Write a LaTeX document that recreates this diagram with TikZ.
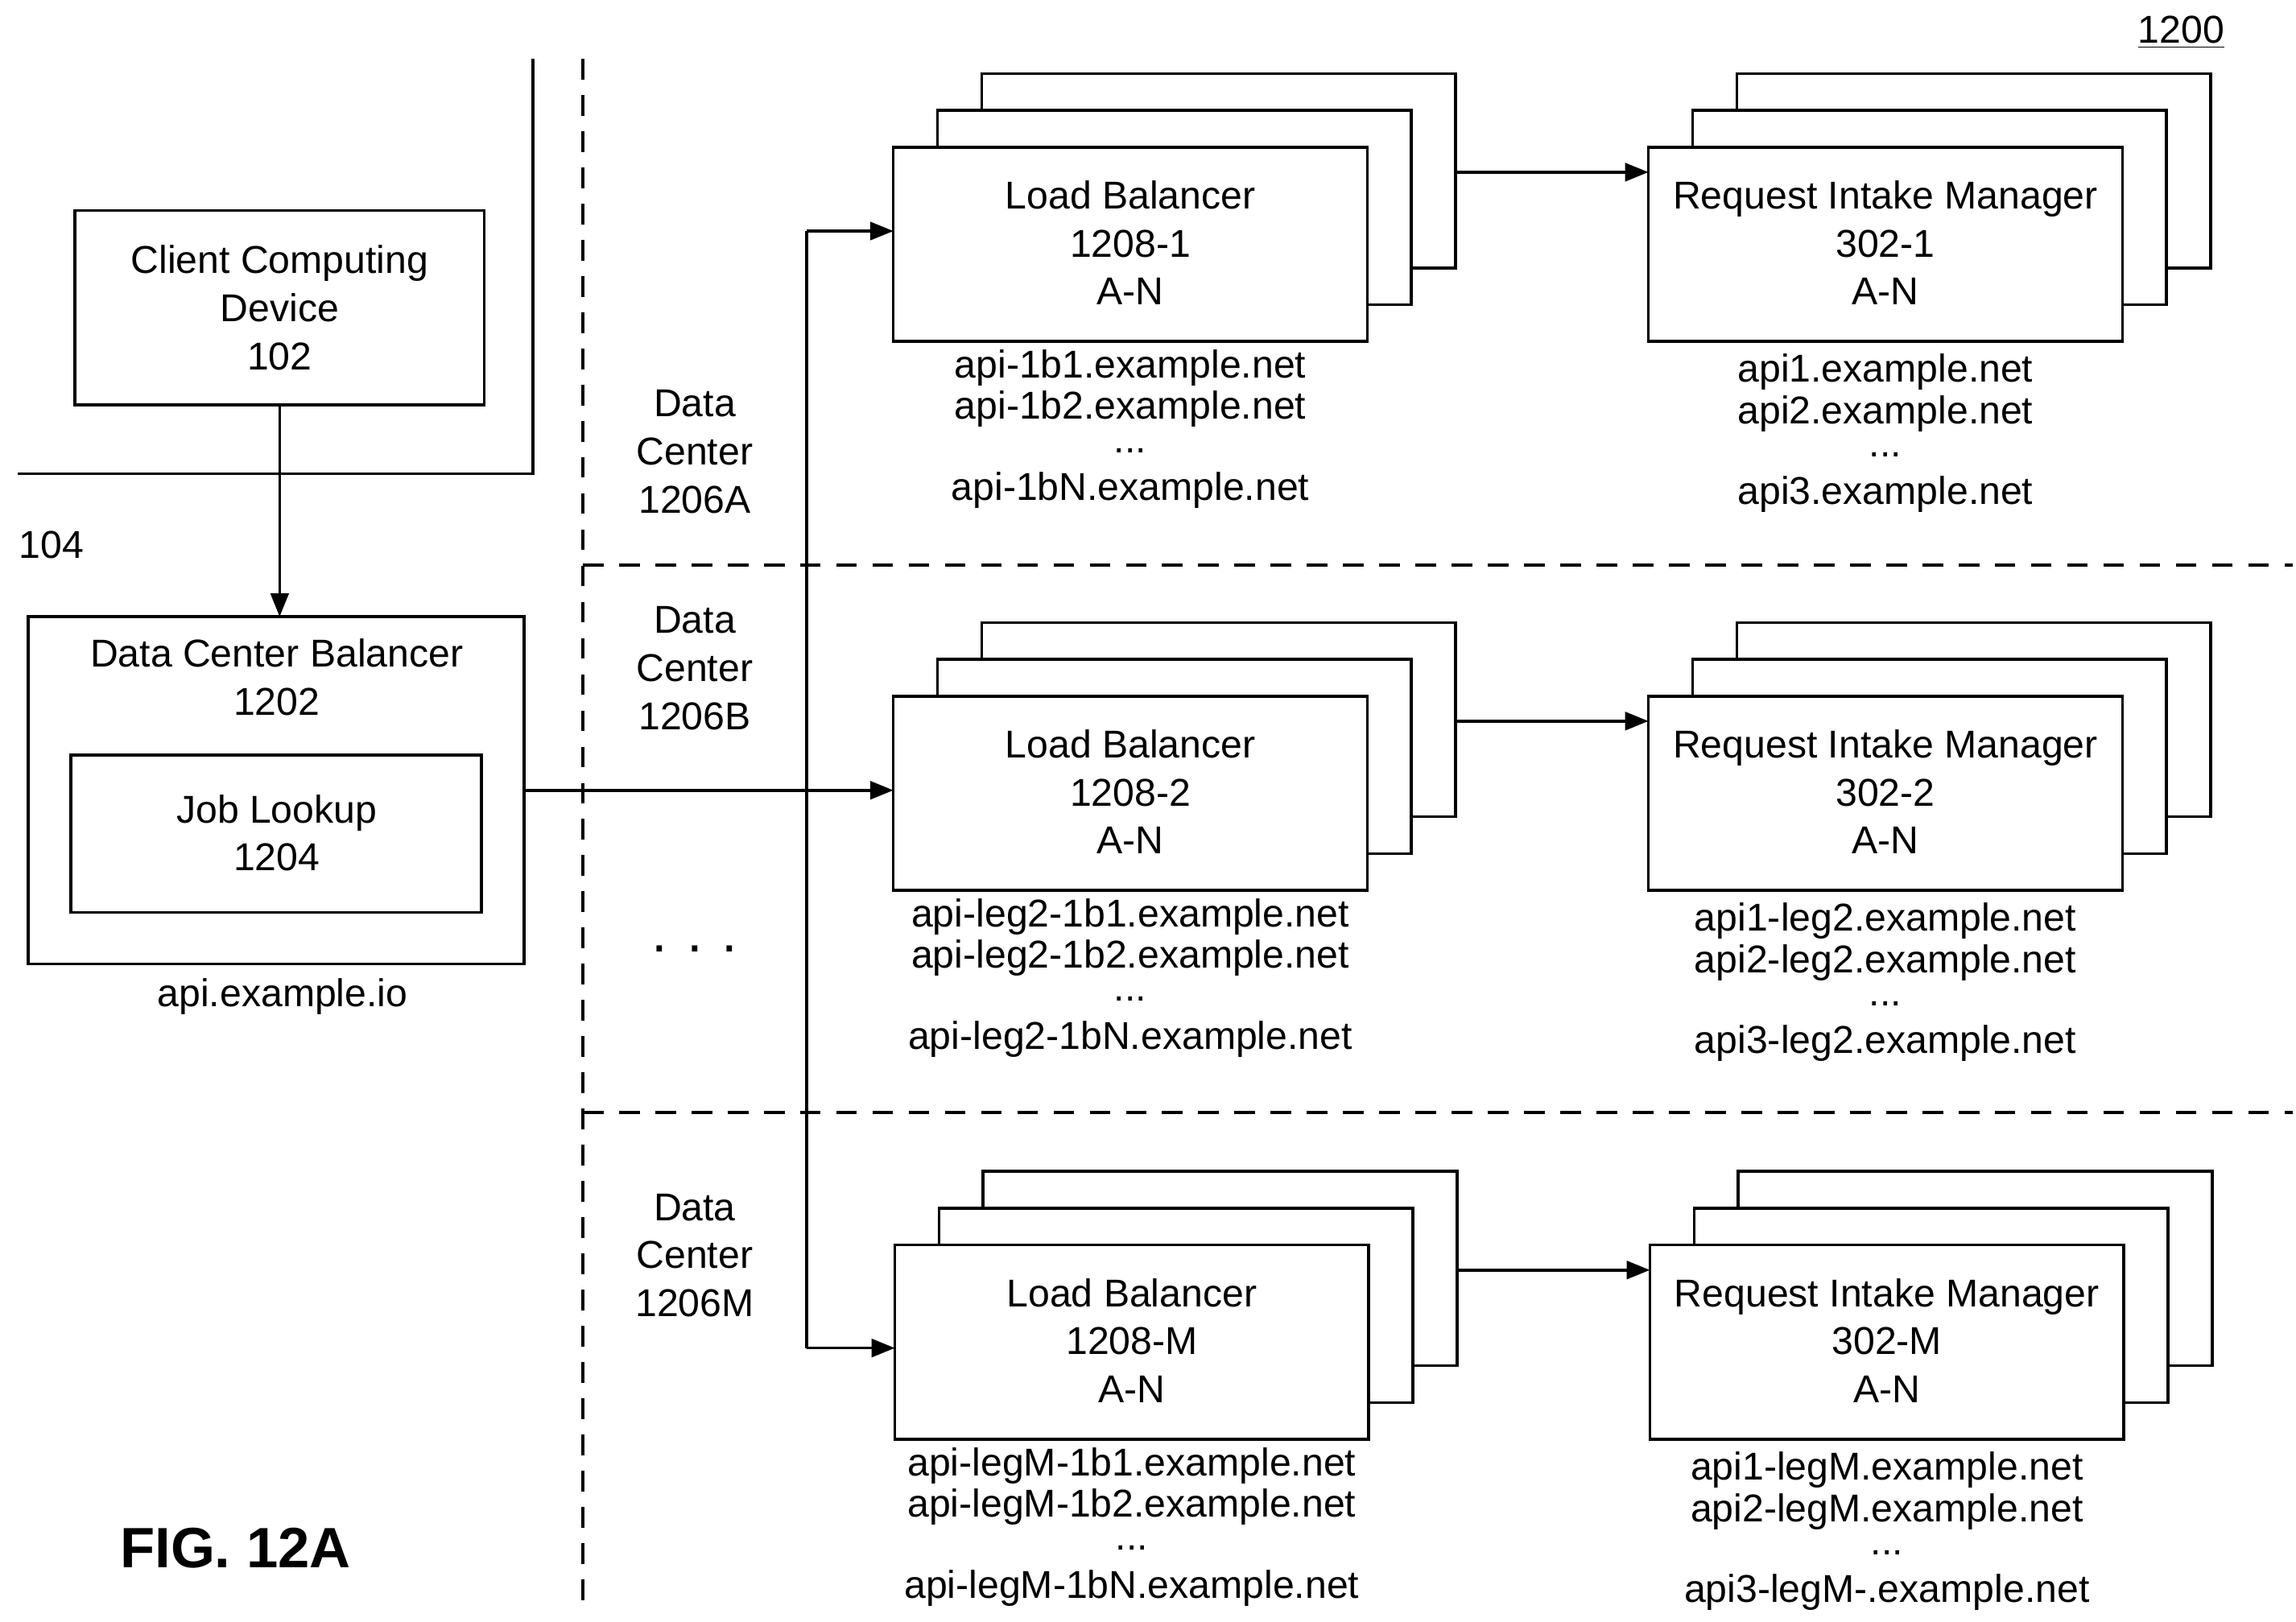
\documentclass[tikz,border=0pt]{standalone}
\usepackage{fontspec}
\setmainfont{Liberation Sans}
\usetikzlibrary{arrows.meta}
\begin{document}
\begin{tikzpicture}[x=0.02cm,y=-0.02cm,
  every node/.style={font=\fontsize{15}{18.6}\selectfont,align=center,inner sep=0},
  box/.style={draw,line width=1.1pt,fill=white},
  ln/.style={line width=1.1pt},
  arr/.style={line width=1.1pt,-{Triangle[length=9pt,width=7pt]}},
  dsh/.style={line width=1.1pt,dash pattern=on 8pt off 6pt}]
\useasboundingbox (0,0) rectangle (1560,1102);
\node at (1482,22) {\underline{1200}};
\node[font=\fontsize{22}{24}\selectfont\bfseries] (fig) at (160,1052) {FIG. 12A};
% client
\draw[ln] (362,40) -- (362,322) -- (12,322);
\node at (35,370) {104};
\draw[box] (51,143) rectangle (329,275);
\node (cl) at (190,209) {Client Computing\\Device\\102};
\coordinate (clb) at (190,275);
\draw[box] (19,419) rectangle (356,655);
\coordinate (dct) at (190,419);
\coordinate (dcr) at (356,537);
\node (dcb) at (188,460) {Data Center Balancer\\1202};
\draw[box] (48,513) rectangle (327,620);
\node (jl) at (188,566) {Job Lookup\\1204};
\node (dcbl) at (192,677) {api.example.io};
\draw[arr] (clb) -- (dct);
% dashed
\draw[dsh] (396,40) -- (396,1095);
\draw[dsh] (396,384) -- (1558,384);
\draw[dsh] (396,756) -- (1558,756);
\node (dA) at (472,307) {Data\\Center\\1206A};
\node (dB) at (472,454) {Data\\Center\\1206B};
\node (dM) at (472,853) {Data\\Center\\1206M};
\node[font=\fontsize{22}{24}\selectfont] (dots) at (472,645) {.\,\,.\,\,.};
% rows
\foreach \r/\dy/\dx/\id/\lbA/\lbB/\lbN/\rmA/\rmB/\rmN in {
 1/0/0/1/api-1b1.example.net/api-1b2.example.net/api-1bN.example.net/api1.example.net/api2.example.net/api3.example.net,
 2/373/0/2/api-leg2-1b1.example.net/api-leg2-1b2.example.net/api-leg2-1bN.example.net/api1-leg2.example.net/api2-leg2.example.net/api3-leg2.example.net,
 3/746/1/M/api-legM-1b1.example.net/api-legM-1b2.example.net/api-legM-1bN.example.net/api1-legM.example.net/api2-legM.example.net/api3-legM-.example.net}{
 \begin{scope}[shift={(\dx,\dy)}]
  \draw[box] (667,50) rectangle (989,182);
  \draw[box] (637,75) rectangle (959,207);
  \draw[box] (607,100) rectangle (929,232);
  \node (lb\r) at (768,165) {Load Balancer\\1208-\id\\A-N};
  \coordinate (lbo\r) at (989,117);
  \node (lbta\r) at (768,250) {\lbA};
  \node (lbtb\r) at (768,278) {\lbB};
  \node (lbtc\r) at (768,306) {...};
  \node (lbtd\r) at (768,333) {\lbN};
  \draw[box] (1180,50) rectangle (1502,182);
  \draw[box] (1150,75) rectangle (1472,207);
  \draw[box] (1120,100) rectangle (1442,232);
  \node (rm\r) at (1281,165) {Request Intake Manager\\302-\id\\A-N};
  \coordinate (rmi\r) at (1120,117);
  \node (rmta\r) at (1281,253) {\rmA};
  \node (rmtb\r) at (1281,281) {\rmB};
  \node (rmtc\r) at (1281,309) {...};
  \node (rmtd\r) at (1281,336) {\rmN};
 \end{scope}
 \draw[arr] (lbo\r) -- (rmi\r);
}
\coordinate (lbl1) at (607,157);
\coordinate (lbl2) at (607,537);
\coordinate (lbl3) at (608,916);
\coordinate (j1) at (548,157);
\coordinate (j3) at (548,916);
\draw[arr] (j1) -- (lbl1);
\draw[ln] (j1) -- (j3);
\draw[arr] (j3) -- (lbl3);
\draw[arr] (dcr) -- (lbl2);
\end{tikzpicture}
\end{document}
